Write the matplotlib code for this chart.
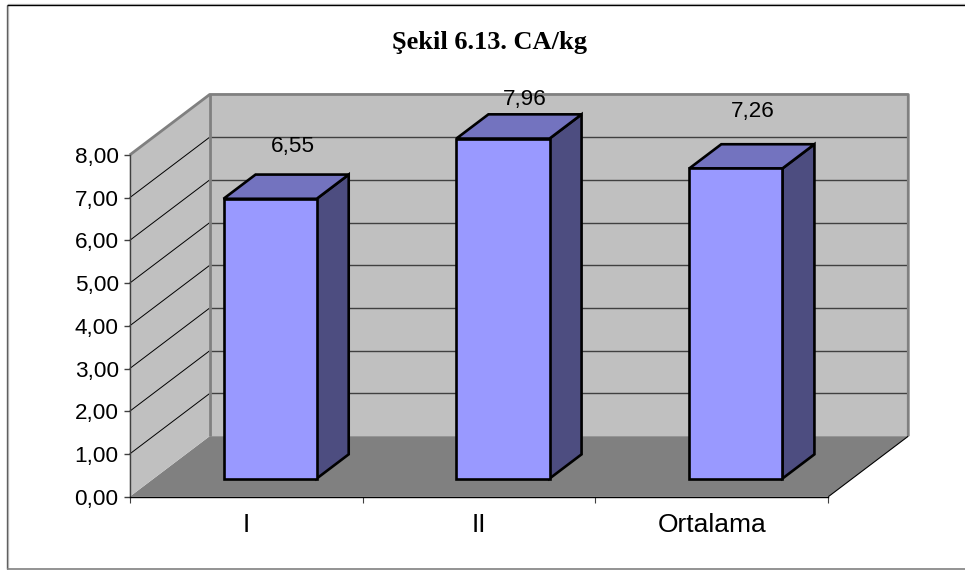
import matplotlib
matplotlib.use("Agg")
import matplotlib.pyplot as plt
from matplotlib.patches import Polygon
from matplotlib.lines import Line2D

categories = ["I", "II", "Ortalama"]
values = [6.55, 7.96, 7.26]
value_labels = ["6,55", "7,96", "7,26"]
y_ticks = [0, 1, 2, 3, 4, 5, 6, 7, 8]
title = "Şekil 6.13. CA/kg"

W, H = 965, 570
DX, DY = 0.3435, 1.417      # depth of the box, data units
BAR_W = 0.40
D0, D1 = 0.30, 0.70         # bar's front/back depth fractions
LABEL_OFF = [(23, 28), (22, 15), (17, 33)]  # px from the bar's back top centre line

plt.rcParams["font.family"] = ["Liberation Sans", "DejaVu Sans"]
fig = plt.figure(figsize=(W / 100, H / 100), dpi=100, facecolor="white")
L, R, T, B = 129.7, 828.3, 155.0, 496.7
ax = fig.add_axes([L / W, 1 - B / H, (R - L) / W, (B - T) / H])
ax.set_xlim(0, 3)
ax.set_ylim(0, 8)
ax.patch.set_visible(False)

WALL, FLOOR, EDGE = "#C0C0C0", "#808080", "#808080"
ymax = y_ticks[-1]
nc = len(categories)

def add_poly(pts, fc, ec="none", lw=0, z=1):
    ax.add_patch(Polygon(pts, closed=True, facecolor=fc, edgecolor=ec, linewidth=lw,
                         joinstyle="miter", zorder=z, clip_on=False))

def add_line(xs, ys, c, lw, z=2):
    ax.add_line(Line2D(xs, ys, color=c, lw=lw, zorder=z, clip_on=False,
                       solid_capstyle="butt"))

# floor and walls
add_poly([(0, 0), (nc, 0), (nc + DX, DY), (DX, DY)], FLOOR, z=1)
add_poly([(DX, DY), (nc + DX, DY), (nc + DX, ymax + DY), (DX, ymax + DY)], WALL, z=1)
add_poly([(0, 0), (DX, DY), (DX, ymax + DY), (0, ymax)], WALL, z=1)

# gridlines
for v in y_ticks[1:-1]:
    add_line([0, DX], [v, v + DY], "#000000", 0.7)
    add_line([DX, nc + DX], [v + DY, v + DY], "#404040", 1.0)

# wall edges
add_line([0, DX, nc + DX, nc + DX], [ymax, ymax + DY, ymax + DY, DY], EDGE, 2.0, z=3)
add_line([DX, DX], [DY, ymax + DY], EDGE, 2.0, z=3)
add_line([nc, nc + DX], [0, DY], "#000000", 0.8, z=3)

# bars
for i, v in enumerate(values):
    x0 = i + 0.5 - BAR_W / 2 + D0 * DX
    x1 = x0 + BAR_W
    y0 = D0 * DY
    y1 = y0 + v
    ddx, ddy = (D1 - D0) * DX, (D1 - D0) * DY
    kw = dict(ec="black", lw=1.9, z=5 + i)
    add_poly([(x1, y0), (x1 + ddx, y0 + ddy), (x1 + ddx, y1 + ddy), (x1, y1)], "#4D4D80", **kw)
    add_poly([(x0, y1), (x1, y1), (x1 + ddx, y1 + ddy), (x0 + ddx, y1 + ddy)], "#7373BF", **kw)
    add_poly([(x0, y0), (x1, y0), (x1, y1), (x0, y1)], "#9999FF", **kw)
    ox, oy = LABEL_OFF[i]
    ax.annotate(value_labels[i], xy=((x0 + x1) / 2, y1 + ddy), xytext=(ox * 0.72, oy * 0.72),
                textcoords="offset points", ha="center", va="center", fontsize=16.2,
                color="black", zorder=20, annotation_clip=False)

# axes
for s in ("top", "right"):
    ax.spines[s].set_visible(False)
ax.spines["left"].set_color("#404040")
ax.spines["left"].set_linewidth(1.0)
ax.spines["bottom"].set_color("black")
ax.spines["bottom"].set_linewidth(1.0)
ax.spines["left"].set_zorder(4)
ax.spines["bottom"].set_zorder(4)
ax.set_yticks(y_ticks)
ax.set_yticklabels([f"{v:.2f}".replace(".", ",") for v in y_ticks], fontsize=16.2)
ax.tick_params(axis="y", length=4.5, width=1.0, color="#404040", pad=3.4)
ax.set_xticks(range(nc + 1))
ax.set_xticklabels([])
ax.tick_params(axis="x", which="major", length=4.5, width=0.8, color="#404040")
ax.set_xticks([i + 0.5 for i in range(nc)], minor=True)
ax.set_xticklabels(categories, minor=True, fontsize=19)
ax.tick_params(axis="x", which="minor", length=0, pad=11.5)

# title
fig.text(490 / W, 1 - 42.5 / H, title, family=["Liberation Serif", "DejaVu Serif"],
         fontweight="bold", fontsize=19, ha="center", va="center", color="black")

# chart frame (open on the right, as in the source)
def frame(xs, ys, c, lw):
    fig.add_artist(Line2D([x / W for x in xs], [1 - y / H for y in ys], color=c, lw=lw,
                          solid_capstyle="butt", solid_joinstyle="miter"))
frame([965, 8, 8], [4, 4, 569], "#C8C8C8", 1.0)
frame([7, 7], [5, 569], "#606060", 1.0)
frame([7, 965], [5.3, 5.3], "black", 1.0)
frame([7, 965], [569, 569], "#808080", 1.2)

fig.savefig("out.png", dpi=100, facecolor="white")
